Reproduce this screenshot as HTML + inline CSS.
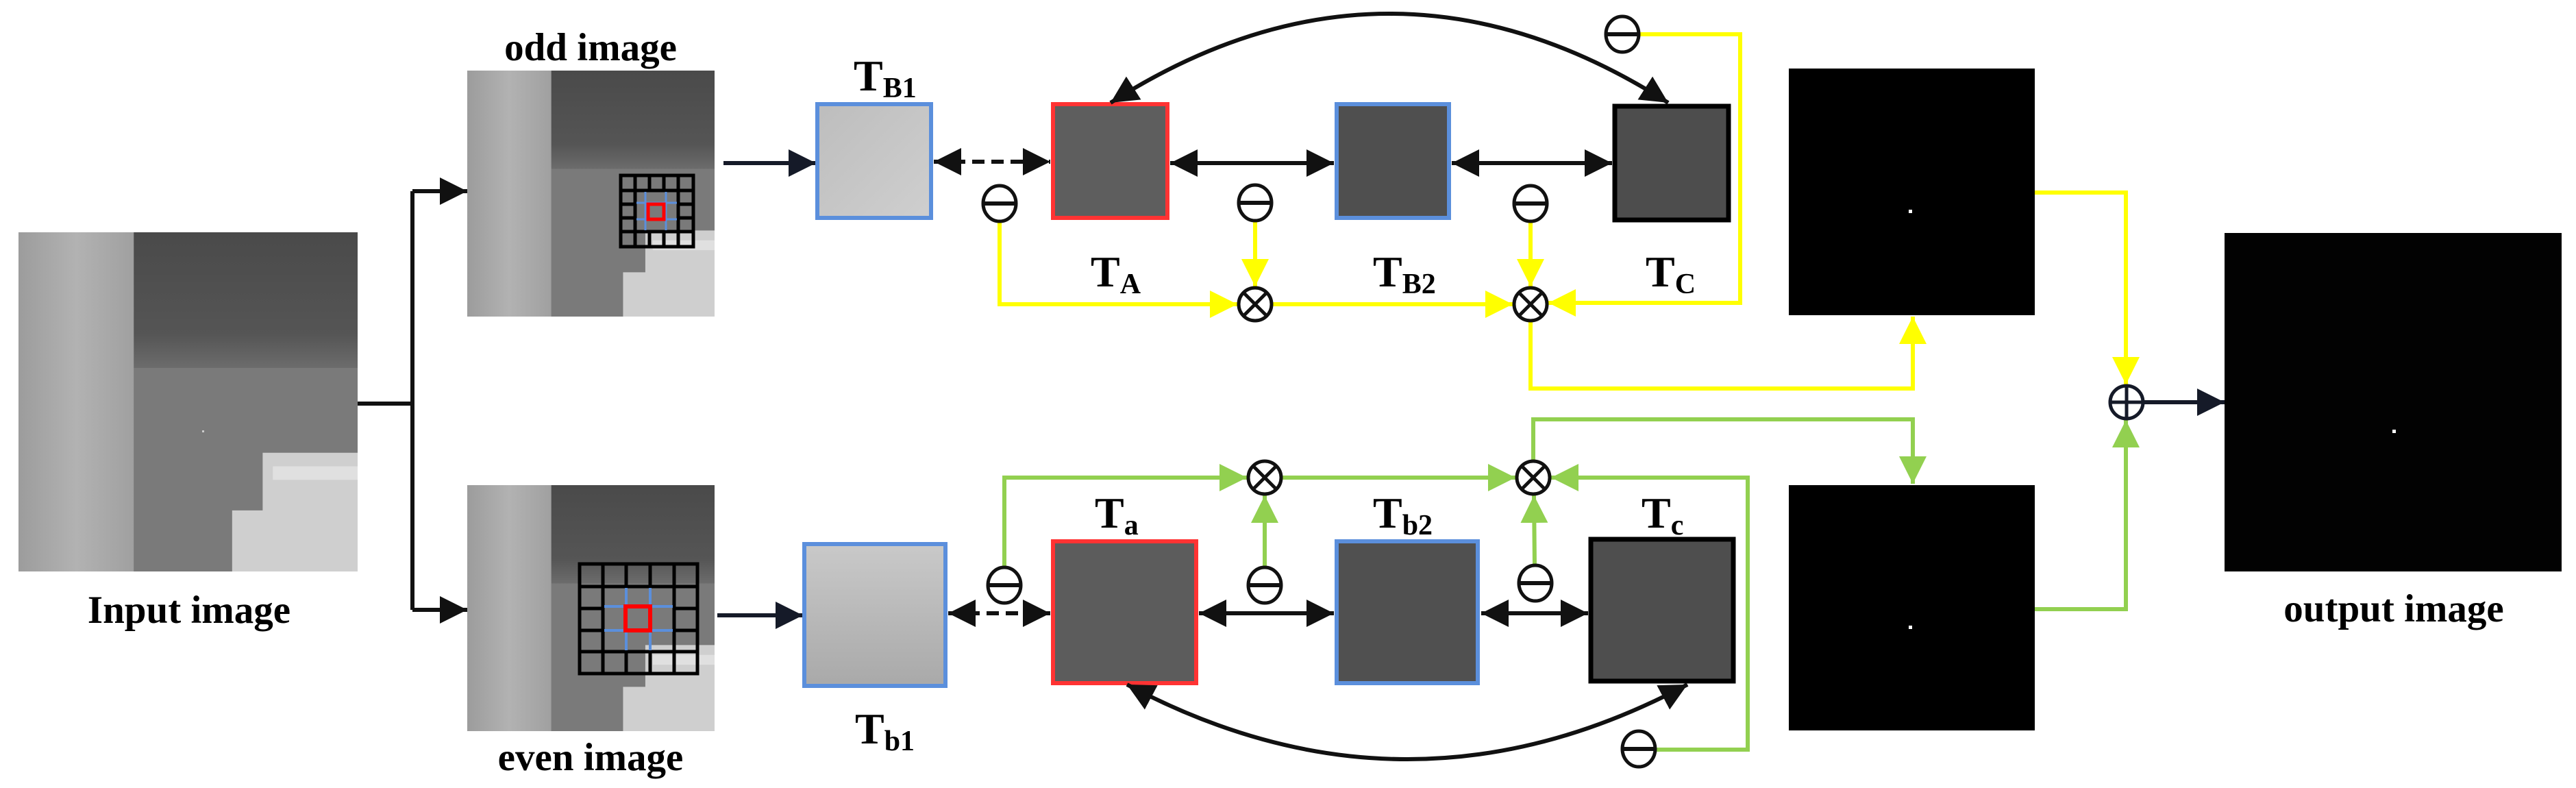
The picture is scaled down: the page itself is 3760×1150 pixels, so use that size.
<!DOCTYPE html>
<html><head><meta charset="utf-8"><style>
html,body{margin:0;padding:0;background:#fff;}
svg{display:block;}
text{font-family:"Liberation Serif",serif;font-weight:bold;fill:#000;}
</style></head><body>
<svg width="3760" height="1150" viewBox="0 0 3760 1150" xmlns="http://www.w3.org/2000/svg">
<defs>
<linearGradient id="strip" x1="0" x2="1" y1="0" y2="0"><stop offset="0" stop-color="#9c9c9c"/><stop offset="0.5" stop-color="#b2b2b2"/><stop offset="1" stop-color="#a0a0a0"/></linearGradient>
<linearGradient id="dark" x1="0" x2="0" y1="0" y2="1"><stop offset="0" stop-color="#4a4a4a"/><stop offset="0.75" stop-color="#555"/><stop offset="1" stop-color="#6c6c6c"/></linearGradient>
<linearGradient id="lightbox" x1="0" x2="1" y1="0" y2="1"><stop offset="0" stop-color="#bdbdbd"/><stop offset="1" stop-color="#cfcfcf"/></linearGradient>
<linearGradient id="lightbox2" x1="0" x2="0" y1="0" y2="1"><stop offset="0" stop-color="#c9c9c9"/><stop offset="1" stop-color="#a9a9a9"/></linearGradient>
<g id="thermal">
<rect x="0" y="0" width="100" height="100" fill="#7c7c7c"/>
<rect x="0" y="0" width="34" height="100" fill="url(#strip)"/>
<rect x="34" y="0" width="66" height="40" fill="url(#dark)"/>
<rect x="34" y="40" width="66" height="60" fill="#7a7a7a"/>
<polygon points="72,65 100,65 100,100 63,100 63,82 72,82" fill="#cfcfcf"/>
<rect x="75" y="69" width="25" height="4" fill="#e0e0e0"/>
</g>
<marker id="ab" viewBox="0 0 10 10" refX="10" refY="5" markerWidth="40" markerHeight="40" markerUnits="userSpaceOnUse" orient="auto-start-reverse"><path d="M0,0 L10,5 L0,10 z" fill="#111"/></marker>
<marker id="an" viewBox="0 0 10 10" refX="10" refY="5" markerWidth="40" markerHeight="40" markerUnits="userSpaceOnUse" orient="auto-start-reverse"><path d="M0,0 L10,5 L0,10 z" fill="#151a28"/></marker>
<marker id="ay" viewBox="0 0 10 10" refX="10" refY="5" markerWidth="40" markerHeight="40" markerUnits="userSpaceOnUse" orient="auto"><path d="M0,0 L10,5 L0,10 z" fill="#ffff00"/></marker>
<marker id="ag" viewBox="0 0 10 10" refX="10" refY="5" markerWidth="40" markerHeight="40" markerUnits="userSpaceOnUse" orient="auto"><path d="M0,0 L10,5 L0,10 z" fill="#92d050"/></marker>
<g id="minus"><ellipse cx="0" cy="0" rx="24" ry="26" fill="#fff" stroke="#111" stroke-width="5"/><line x1="-24" y1="0" x2="24" y2="0" stroke="#111" stroke-width="6"/></g>
<g id="otimes"><circle cx="0" cy="0" r="24" fill="#fff" stroke="#111" stroke-width="5"/><line x1="-17" y1="-17" x2="17" y2="17" stroke="#111" stroke-width="5"/><line x1="17" y1="-17" x2="-17" y2="17" stroke="#111" stroke-width="5"/></g>
</defs>

<g transform="translate(27,339) scale(4.95,4.95)"><use href="#thermal"/></g>
<rect x="295" y="628" width="3" height="3" fill="#ccc"/>
<g transform="translate(682,103) scale(3.61,3.59)"><use href="#thermal"/></g>
<g transform="translate(682,708) scale(3.61,3.59)"><use href="#thermal"/></g>

<g stroke="#000" stroke-width="5" fill="none">
<rect x="906" y="256" width="106" height="104"/>
<line x1="927" y1="256" x2="927" y2="280"/><line x1="948" y1="256" x2="948" y2="280"/><line x1="969" y1="256" x2="969" y2="280"/><line x1="990" y1="256" x2="990" y2="280"/>
<line x1="927" y1="338" x2="927" y2="360"/><line x1="948" y1="338" x2="948" y2="360"/><line x1="969" y1="338" x2="969" y2="360"/><line x1="990" y1="338" x2="990" y2="360"/>
<line x1="906" y1="278" x2="1012" y2="278"/><line x1="906" y1="338" x2="1012" y2="338"/>
<line x1="927" y1="278" x2="927" y2="338"/><line x1="990" y1="278" x2="990" y2="338"/>
<line x1="906" y1="298" x2="927" y2="298"/><line x1="906" y1="318" x2="927" y2="318"/>
<line x1="990" y1="298" x2="1012" y2="298"/><line x1="990" y1="318" x2="1012" y2="318"/>
</g>
<g stroke="#5b8fdc" stroke-width="3"><line x1="942" y1="280" x2="942" y2="336"/><line x1="972" y1="280" x2="972" y2="336"/><line x1="929" y1="296" x2="988" y2="296"/><line x1="929" y1="320" x2="988" y2="320"/></g>
<rect x="946" y="298" width="23" height="22" fill="none" stroke="#ff0000" stroke-width="5"/>

<g stroke="#000" stroke-width="5" fill="none">
<rect x="846" y="823" width="172" height="160"/>
<line x1="846" y1="856" x2="1018" y2="856"/><line x1="846" y1="951" x2="1018" y2="951"/>
<line x1="880" y1="823" x2="880" y2="983"/><line x1="984" y1="823" x2="984" y2="983"/>
<line x1="914" y1="823" x2="914" y2="856"/><line x1="949" y1="823" x2="949" y2="856"/>
<line x1="914" y1="951" x2="914" y2="983"/><line x1="949" y1="951" x2="949" y2="983"/>
<line x1="846" y1="888" x2="880" y2="888"/><line x1="846" y1="920" x2="880" y2="920"/>
<line x1="984" y1="888" x2="1018" y2="888"/><line x1="984" y1="920" x2="1018" y2="920"/>
</g>
<g stroke="#5b8fdc" stroke-width="4"><line x1="914" y1="858" x2="914" y2="949"/><line x1="949" y1="858" x2="949" y2="949"/><line x1="882" y1="885" x2="982" y2="885"/><line x1="882" y1="920" x2="982" y2="920"/></g>
<rect x="913" y="885" width="36" height="35" fill="none" stroke="#ff0000" stroke-width="6"/>

<rect x="2611" y="100" width="359" height="360" fill="#000"/>
<rect x="2786" y="306" width="5" height="5" fill="#fff"/>
<rect x="2611" y="708" width="359" height="358" fill="#000"/>
<rect x="2786" y="913" width="5" height="5" fill="#fff"/>
<rect x="3247" y="340" width="492" height="494" fill="#020202"/>
<rect x="3492" y="627" width="5" height="5" fill="#fff"/>

<text x="276" y="909" font-size="57" text-anchor="middle">Input image</text>
<text x="862" y="88" font-size="57" text-anchor="middle">odd image</text>
<text x="862" y="1124" font-size="57" text-anchor="middle">even image</text>
<text x="3494" y="907" font-size="57" text-anchor="middle">output image</text>

<g stroke="#111" stroke-width="6" fill="none">
<line x1="522" y1="589" x2="602" y2="589"/>
<polyline points="602,279 602,890"/>
<line x1="602" y1="279" x2="682" y2="279" marker-end="url(#ab)"/>
<line x1="602" y1="890" x2="682" y2="890" marker-end="url(#ab)"/>
</g>
<g stroke="#151a28" stroke-width="6" fill="none">
<line x1="1056" y1="238" x2="1191" y2="238" marker-end="url(#an)"/>
<line x1="1047" y1="898" x2="1172" y2="898" marker-end="url(#an)"/>
<line x1="3130" y1="587" x2="3247" y2="587" marker-end="url(#an)"/>
</g>

<rect x="1193" y="152" width="166" height="166" fill="url(#lightbox)" stroke="#5b8fdc" stroke-width="6"/>
<rect x="1537" y="152" width="167" height="166" fill="#5e5e5e" stroke="#ff3333" stroke-width="6"/>
<rect x="1951" y="152" width="164" height="166" fill="#4f4f4f" stroke="#5b8fdc" stroke-width="6"/>
<rect x="2357" y="155" width="166" height="166" fill="#4d4d4d" stroke="#000" stroke-width="7"/>
<rect x="1174" y="794" width="206" height="207" fill="url(#lightbox2)" stroke="#5b8fdc" stroke-width="6"/>
<rect x="1537" y="790" width="209" height="207" fill="#5c5c5c" stroke="#ff3333" stroke-width="6"/>
<rect x="1951" y="790" width="206" height="207" fill="#505050" stroke="#5b8fdc" stroke-width="6"/>
<rect x="2322" y="787" width="208" height="207" fill="#4e4e4e" stroke="#000" stroke-width="7"/>

<g font-size="64">
<text x="1246" y="132">T<tspan font-size="42" dy="10">B1</tspan></text>
<text x="1592" y="418">T<tspan font-size="42" dy="10">A</tspan></text>
<text x="2004" y="418">T<tspan font-size="42" dy="10">B2</tspan></text>
<text x="2402" y="418">T<tspan font-size="42" dy="10">C</tspan></text>
<text x="1598" y="770">T<tspan font-size="42" dy="10">a</tspan></text>
<text x="2004" y="770">T<tspan font-size="42" dy="10">b2</tspan></text>
<text x="2396" y="770">T<tspan font-size="42" dy="10">c</tspan></text>
<text x="1248" y="1085">T<tspan font-size="42" dy="10">b1</tspan></text>
</g>

<g stroke="#111" stroke-width="6" fill="none">
<line x1="1363" y1="236" x2="1533" y2="236" stroke-dasharray="18,10" marker-start="url(#ab)" marker-end="url(#ab)"/>
<line x1="1708" y1="238" x2="1947" y2="238" marker-start="url(#ab)" marker-end="url(#ab)"/>
<line x1="2119" y1="238" x2="2353" y2="238" marker-start="url(#ab)" marker-end="url(#ab)"/>
<path d="M 2435 150 Q 2028 -110 1621 150" marker-start="url(#ab)" marker-end="url(#ab)"/>
<line x1="1384" y1="895" x2="1533" y2="895" stroke-dasharray="18,10" marker-start="url(#ab)" marker-end="url(#ab)"/>
<line x1="1750" y1="895" x2="1947" y2="895" marker-start="url(#ab)" marker-end="url(#ab)"/>
<line x1="2162" y1="895" x2="2318" y2="895" marker-start="url(#ab)" marker-end="url(#ab)"/>
<path d="M 1645 999 Q 2054 1217 2463 999" marker-start="url(#ab)" marker-end="url(#ab)"/>
</g>

<g stroke="#ffff00" stroke-width="6" fill="none">
<polyline points="1459,320 1459,444 1806,444" marker-end="url(#ay)"/>
<line x1="1832" y1="322" x2="1832" y2="418" marker-end="url(#ay)"/>
<line x1="1858" y1="444" x2="2208" y2="444" marker-end="url(#ay)"/>
<line x1="2234" y1="323" x2="2234" y2="418" marker-end="url(#ay)"/>
<polyline points="2394,50 2540,50 2540,442 2260,442" marker-end="url(#ay)"/>
<polyline points="2234,470 2234,567 2792,567 2792,462" marker-end="url(#ay)"/>
<polyline points="2970,281 3103,281 3103,561" marker-end="url(#ay)"/>
</g>
<g stroke="#92d050" stroke-width="6" fill="none">
<polyline points="1466,828 1466,697 1820,697" marker-end="url(#ag)"/>
<line x1="1846" y1="828" x2="1846" y2="723" marker-end="url(#ag)"/>
<line x1="1872" y1="697" x2="2212" y2="697" marker-end="url(#ag)"/>
<line x1="2240" y1="825" x2="2239" y2="723" marker-end="url(#ag)"/>
<polyline points="2418,1094 2551,1094 2551,697 2264,697" marker-end="url(#ag)"/>
<polyline points="2238,671 2238,612 2792,612 2792,706" marker-end="url(#ag)"/>
<polyline points="2970,889 3103,889 3103,613" marker-end="url(#ag)"/>
</g>

<use href="#minus" x="1459" y="297"/>
<use href="#minus" x="1832" y="296"/>
<use href="#minus" x="2234" y="297"/>
<use href="#minus" x="2368" y="50"/>
<use href="#minus" x="1466" y="854"/>
<use href="#minus" x="1846" y="854"/>
<use href="#minus" x="2241" y="851"/>
<use href="#minus" x="2392" y="1093"/>
<use href="#otimes" x="1832" y="444"/>
<use href="#otimes" x="2234" y="444"/>
<use href="#otimes" x="1846" y="697"/>
<use href="#otimes" x="2238" y="697"/>
<g><circle cx="3104" cy="587" r="24" fill="#fff" stroke="#151a28" stroke-width="5"/><line x1="3080" y1="587" x2="3128" y2="587" stroke="#151a28" stroke-width="5"/><line x1="3104" y1="563" x2="3104" y2="611" stroke="#151a28" stroke-width="5"/></g>
</svg>
</body></html>
